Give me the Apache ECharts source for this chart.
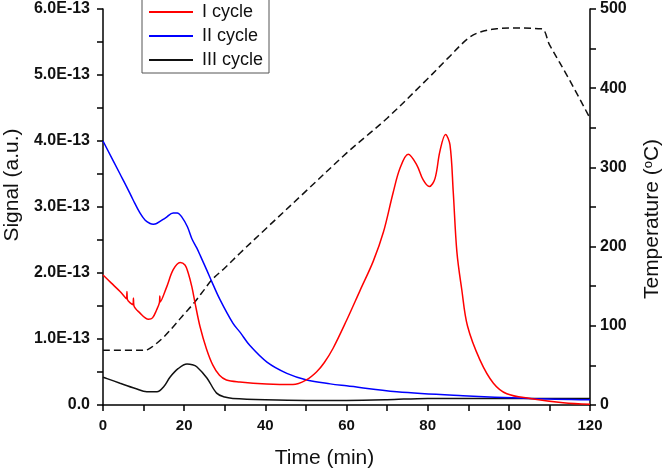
<!DOCTYPE html>
<html><head><meta charset="utf-8">
<script src="https://cdn.jsdelivr.net/npm/echarts@6/dist/echarts.min.js"></script>
<style>html,body{margin:0;padding:0;background:#fff}#c{width:666px;height:472px}</style>
</head><body><div id="c"></div>
<script>
// Signal values are in units of 1E-13 a.u.
const seriesNames = ['I cycle', 'II cycle', 'III cycle'];

const redTime   = [0, 2, 4.2, 5.8, 5.9, 6.0, 7.4, 7.5, 7.6, 9, 11.2, 12.2, 13.2, 13.9, 14.0, 14.1, 15.7, 17.3, 19.0, 20.2, 21, 21.9, 22.7, 23.9, 25.5, 27.1, 28.7, 30.4, 33.7, 40.3, 46.8, 50.1, 52.6, 54.5, 56.7, 60.0, 63.3, 66.6, 69.1, 71.5, 73.2, 75.2, 77.3, 78.9, 80.4, 81.8, 83.0, 84.4, 85.5, 86.3, 87.2, 88.4, 89.8, 92.9, 96.2, 99.5, 105.2, 113.4, 120];
const redSignal = [1.97, 1.85, 1.72, 1.61, 1.72, 1.60, 1.52, 1.62, 1.51, 1.40, 1.30, 1.32, 1.44, 1.55, 1.65, 1.56, 1.79, 2.05, 2.16, 2.12, 2.00, 1.79, 1.54, 1.19, 0.85, 0.60, 0.45, 0.38, 0.35, 0.32, 0.31, 0.38, 0.50, 0.64, 0.86, 1.28, 1.73, 2.18, 2.62, 3.22, 3.59, 3.80, 3.64, 3.41, 3.31, 3.43, 3.84, 4.10, 3.94, 3.23, 2.32, 1.75, 1.20, 0.68, 0.33, 0.17, 0.10, 0.035, 0.01];

const blueTime   = [0, 4.2, 5.8, 7.4, 9.1, 10.4, 11.6, 12.4, 13.2, 15.5, 17.3, 18.3, 19.4, 20.8, 21.9, 23.1, 24, 25.6, 26.8, 28.8, 32, 33.8, 36.2, 40.4, 45.3, 50.2, 56, 60, 72.4, 88.7, 105, 120];
const blueSignal = [4.00, 3.50, 3.31, 3.11, 2.91, 2.80, 2.75, 2.74, 2.75, 2.84, 2.91, 2.91, 2.85, 2.70, 2.52, 2.38, 2.26, 2.04, 1.87, 1.60, 1.24, 1.10, 0.90, 0.65, 0.48, 0.38, 0.32, 0.29, 0.20, 0.14, 0.10, 0.08];

const blackTime   = [0, 1, 4.2, 8, 10.8, 13.3, 15, 16.5, 18.5, 20.7, 22, 23.1, 25.6, 28, 30, 32, 40, 50, 60, 70, 80, 90, 100, 110, 120];
const blackSignal = [0.42, 0.40, 0.33, 0.25, 0.20, 0.20, 0.28, 0.42, 0.55, 0.62, 0.61, 0.58, 0.41, 0.18, 0.12, 0.10, 0.08, 0.07, 0.07, 0.08, 0.10, 0.10, 0.10, 0.10, 0.10];

const tempTime  = [0, 10, 11, 12.4, 15, 18, 20, 22.3, 25, 26.8, 30, 33.8, 40, 50, 60, 65, 70, 80, 85, 90, 93, 97, 100, 108, 110, 115, 120];
const tempValue = [69, 69, 70, 74.5, 86, 103, 115, 128, 146, 158, 173, 192, 222, 270, 318, 340, 362, 412, 438, 463, 471, 475, 476, 475, 455, 410, 362];

const signalTickLabels = ['0.0', '1.0E-13', '2.0E-13', '3.0E-13', '4.0E-13', '5.0E-13', '6.0E-13'];
const tempTickLabels = ['0', '100', '200', '300', '400', '500'];
const timeTickLabels = ['0', '20', '40', '60', '80', '100', '120'];

const zip = (a, b) => a.map((t, i) => [t, b[i]]);
const FONT = 'Liberation Sans';
const axisLine = { show: true, onZero: false, lineStyle: { color: '#000', width: 1.5 } };
const axisTick = { show: true, inside: false, length: 6, lineStyle: { color: '#000', width: 1.5 } };
const labelStyle = { fontFamily: FONT, fontWeight: 'bold', fontSize: 15, color: '#111' };
const labelStyleY = { fontFamily: FONT, fontWeight: 'bold', fontSize: 16, color: '#111' };
const nameStyle = { fontFamily: FONT, fontSize: 21, color: '#111' };
const SM = 0.35;

const chart = echarts.init(document.getElementById('c'), null, { renderer: 'canvas' });
chart.setOption({
  animation: false,
  backgroundColor: '#fff',
  grid: { left: 103, right: 76, top: 9, bottom: 67, containLabel: false, outerBoundsMode: 'none' },
  legend: {
    data: seriesNames,
    orient: 'vertical',
    left: 142, top: -1,
    icon: 'rect', itemWidth: 44, itemHeight: 2, itemGap: 6,
    padding: [4, 6, 4, 7],
    borderColor: '#555', borderWidth: 1,
    backgroundColor: '#fff',
    textStyle: { fontFamily: FONT, fontSize: 18, lineHeight: 18, color: '#111', padding: [0, 0, 0, 4] }
  },
  xAxis: {
    type: 'value', min: 0, max: 120, interval: 10,
    name: 'Time (min)', nameLocation: 'middle', nameGap: 43,
    nameTextStyle: Object.assign({ padding: [0, 44, 0, 0] }, nameStyle),
    axisLine, axisTick,
    splitLine: { show: false },
    axisLabel: Object.assign({ margin: 13, formatter: v => (v % 20 === 0 ? timeTickLabels[v / 20] : '') }, labelStyle)
  },
  yAxis: [{
    type: 'value', min: 0, max: 6, interval: 0.5, position: 'left',
    name: 'Signal (a.u.)', nameLocation: 'middle', nameGap: 80,
    nameTextStyle: Object.assign({ padding: [0, 0, 0, 44] }, nameStyle),
    axisLine, axisTick,
    splitLine: { show: false },
    axisLabel: Object.assign({ margin: 13, formatter: v => (Math.abs(v - Math.round(v)) < 1e-9 ? signalTickLabels[Math.round(v)] : '') }, labelStyleY)
  }, {
    type: 'value', min: 0, max: 500, interval: 50, position: 'right',
    name: 'Temperature ({sup|o}C)', nameLocation: 'middle', nameGap: 52,
    nameTextStyle: Object.assign({ padding: [0, 24, 0, 0], rich: { sup: { fontFamily: FONT, fontSize: 13, verticalAlign: 'top', padding: [0, 0, 8, 0], color: '#111' } } }, nameStyle),
    axisLine, axisTick,
    splitLine: { show: false },
    axisLabel: Object.assign({ margin: 10, formatter: v => (v % 100 === 0 ? tempTickLabels[v / 100] : '') }, labelStyleY)
  }],
  series: [
    { name: 'Temperature', type: 'line', yAxisIndex: 1, data: zip(tempTime, tempValue), showSymbol: false, smooth: SM, z: 2,
      lineStyle: { color: '#111', width: 1.5, type: [7, 4] }, itemStyle: { color: '#111' } },
    { name: seriesNames[2], type: 'line', data: zip(blackTime, blackSignal), showSymbol: false, smooth: SM, z: 3,
      lineStyle: { color: '#111', width: 1.5 }, itemStyle: { color: '#111' } },
    { name: seriesNames[1], type: 'line', data: zip(blueTime, blueSignal), showSymbol: false, smooth: SM, z: 4,
      lineStyle: { color: '#0000ff', width: 1.5 }, itemStyle: { color: '#0000ff' } },
    { name: seriesNames[0], type: 'line', data: zip(redTime, redSignal), showSymbol: false, smooth: SM, z: 5,
      lineStyle: { color: '#ff0000', width: 1.5 }, itemStyle: { color: '#ff0000' } }
  ]
});
</script>
</body></html>
